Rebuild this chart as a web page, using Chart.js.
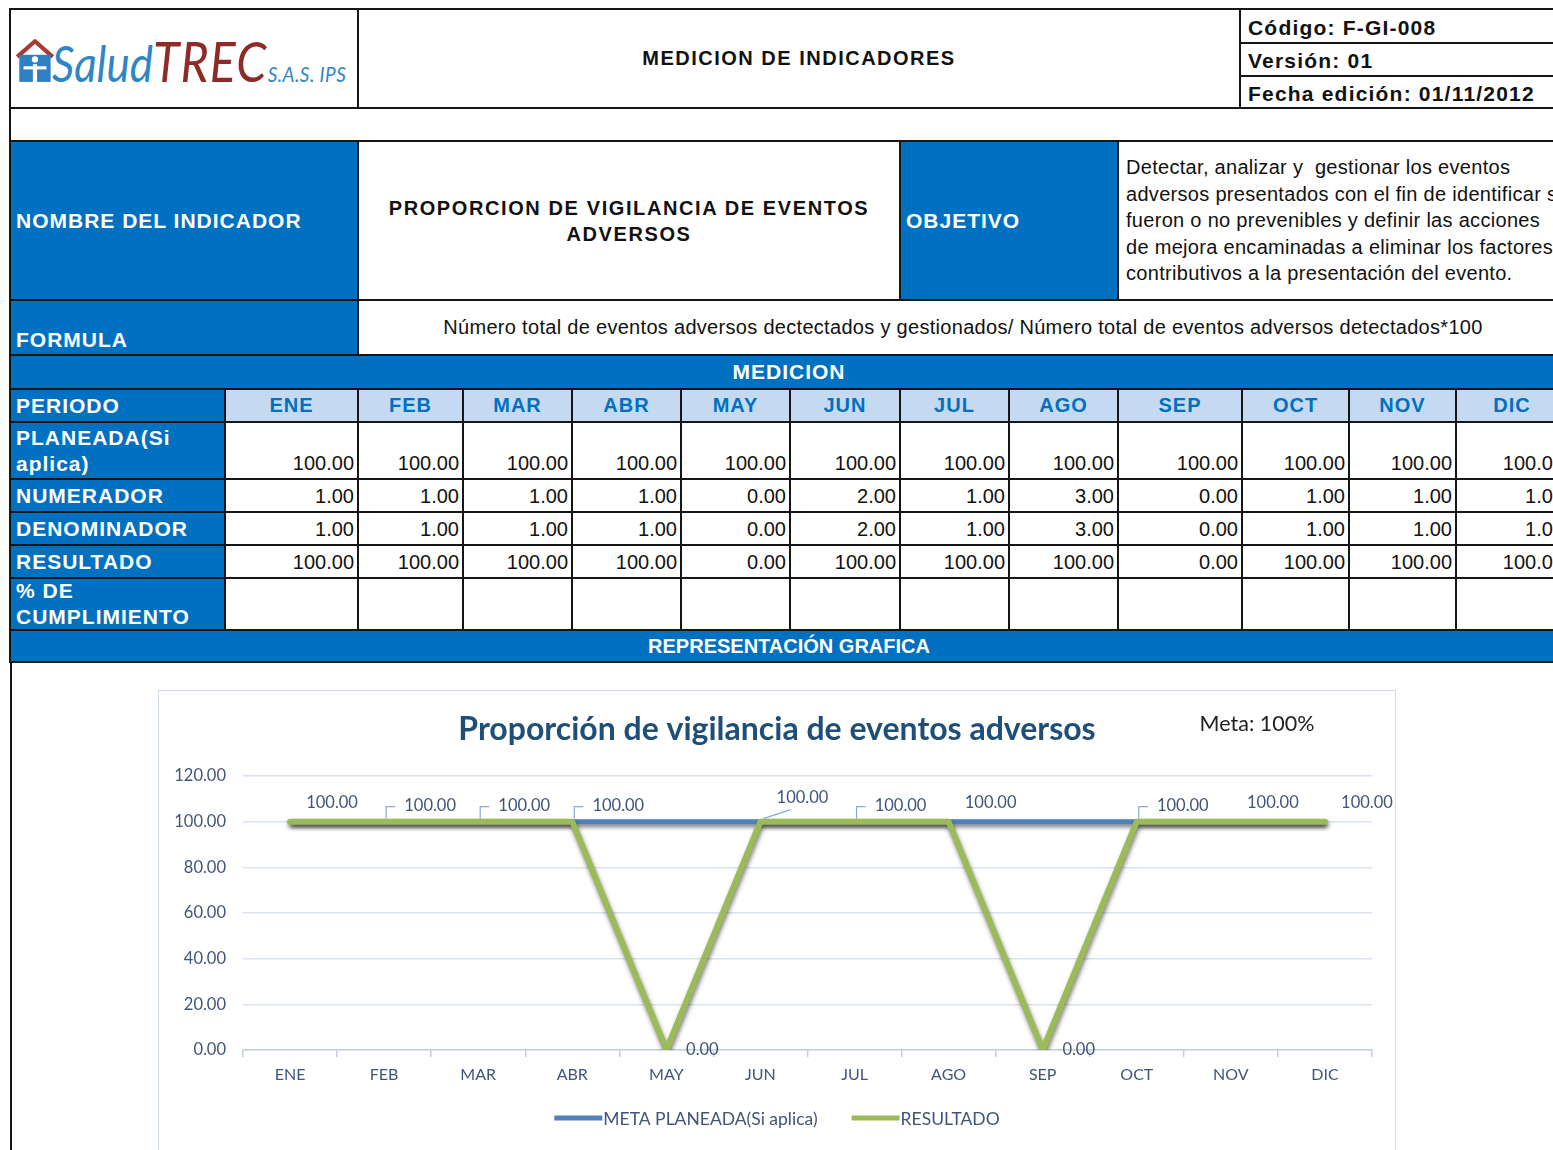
<!DOCTYPE html>
<html lang="es">
<head>
<meta charset="utf-8">
<title>Medición de indicadores - Proporción de vigilancia de eventos adversos</title>
<script src="https://cdn.jsdelivr.net/npm/chart.js@4.4.1/dist/chart.umd.min.js"></script>
<style>
  html, body { margin: 0; padding: 0; background: #fff; }
  body { width: 1553px; height: 1150px; overflow: hidden; position: relative; font-family: "Liberation Sans", Arial, sans-serif; color: #111; }
  .c { position: absolute; box-sizing: border-box; border: 2px solid #161616; display: flex; overflow: hidden; white-space: nowrap; }
  .blue { background: #0070C0; color: #fff; font-weight: bold; font-size: 21px; letter-spacing: 1px; }
  .lbl { align-items: center; padding-left: 5px; line-height: 26px; }
  .mon { background: #C5D9F1; color: #0070C0; font-weight: bold; font-size: 20px; letter-spacing: 1px; justify-content: center; align-items: center; }
  .num { font-size: 20px; line-height: 23px; justify-content: flex-end; align-items: flex-end; padding: 0 3px 3px 0; }
  .hdr { font-weight: bold; font-size: 20px; letter-spacing: 1.5px; align-items: center; }
  .txt { font-size: 20px; letter-spacing: 0.3px; }
  .logo { position: absolute; left: 52px; top: 33px; height: 52px; font-family: Lato, "Open Sans", sans-serif; font-style: italic; font-size: 51px; line-height: 1; transform: scaleX(0.86); transform-origin: left top; white-space: nowrap; }
  #leftRule { position: absolute; left: 10px; top: 662px; width: 2px; height: 500px; background: #161616; }
  #chartBox { position: absolute; left: 158px; top: 690px; width: 1238px; height: 480px; box-sizing: border-box; border: 1.5px solid #D3DBE6; }
  #chartWrap { position: absolute; left: 0; top: 0; width: 1236px; height: 459px; }
</style>
</head>
<body>
<div id="sheet"></div>
<div id="leftRule"></div>
<div id="chartBox"><div id="chartWrap"><canvas id="chart" width="1236" height="459"></canvas></div></div>

<script>
// datos de la hoja
const MONTHS = ['ENE', 'FEB', 'MAR', 'ABR', 'MAY', 'JUN', 'JUL', 'AGO', 'SEP', 'OCT', 'NOV', 'DIC'];
const PLANEADA = [100, 100, 100, 100, 100, 100, 100, 100, 100, 100, 100, 100];
const NUMERADOR = [1, 1, 1, 1, 0, 2, 1, 3, 0, 1, 1, 1];
const DENOMINADOR = [1, 1, 1, 1, 0, 2, 1, 3, 0, 1, 1, 1];
const RESULTADO = [100, 100, 100, 100, 0, 100, 100, 100, 0, 100, 100, 100];
const Y_TICKS = [0, 20, 40, 60, 80, 100, 120];

const SERIES_META = 'META PLANEADA(Si aplica)';
const SERIES_RESULT = 'RESULTADO';
const CHART_TITLE = 'Proporción de vigilancia de eventos adversos';
const META_NOTE = 'Meta: 100%';

const OBJETIVO = [
  'Detectar, analizar y&nbsp; gestionar los eventos',
  'adversos presentados con el fin de identificar si',
  'fueron o no prevenibles y definir las acciones',
  'de mejora encaminadas a eliminar los factores',
  'contributivos a la presentación del evento.',
];
const FORMULA = 'Número total de eventos adversos dectectados y gestionados/ Número total de eventos adversos detectados*100';

// estilos del gráfico
const BLUE = '#4F81BD';
const GREEN = '#9BBB59';
const TICK_COLOR = '#41557A';
const GRID_COLOR = '#D9E2EF';
const AXIS_COLOR = '#C4CFDE';
const CHART_FONT = 'Lato, "Open Sans", sans-serif';
const LEADERS = { FEB: 'bracket', MAR: 'bracket', ABR: 'bracket', JUL: 'bracket', OCT: 'bracket', JUN: 'diagonal' };

// ---------- hoja ----------
const sheet = document.getElementById('sheet');
const COL_X = [225, 358, 463, 572, 681, 790, 900, 1009, 1118, 1242, 1349, 1456, 1568];
const RIGHT = 1568;

function cell(x1, y1, x2, y2, cls, html, css) {
  const d = document.createElement('div');
  d.className = 'c ' + (cls || '');
  d.style.left = (x1 - 1) + 'px';
  d.style.top = (y1 - 1) + 'px';
  d.style.width = (x2 - x1 + 2) + 'px';
  d.style.height = (y2 - y1 + 2) + 'px';
  if (css) Object.assign(d.style, css);
  d.innerHTML = html || '';
  sheet.appendChild(d);
  return d;
}

// encabezado
cell(10, 9, 358, 108, '', '');
cell(358, 9, 1240, 108, 'hdr', 'MEDICION DE INDICADORES', { justifyContent: 'center' });
const codeCss = { paddingLeft: '7px', paddingTop: '3px', fontSize: '21px', letterSpacing: '1.2px' };
cell(1240, 9, RIGHT, 43, 'hdr', 'Código: F-GI-008', codeCss);
cell(1240, 43, RIGHT, 76, 'hdr', 'Versión: 01', codeCss);
cell(1240, 76, RIGHT, 108, 'hdr', 'Fecha edición: 01/11/2012', codeCss);

// logo
sheet.insertAdjacentHTML('beforeend', `
<svg style="position:absolute;left:15px;top:36px" width="42" height="48" viewBox="0 0 40 46">
  <path d="M2 20 L19 5 L36 20" fill="none" stroke="#A63A33" stroke-width="4" stroke-linejoin="round"/>
  <rect x="4" y="18" width="30" height="26" fill="#2F80C3"/>
  <circle cx="19" cy="22.5" r="3" fill="#fff"/>
  <rect x="17" y="27" width="4" height="17" fill="#fff"/>
  <rect x="8" y="29" width="22" height="3" fill="#fff"/>
</svg>
<div class="logo"><span style="color:#2E86C6">Salud</span><span style="color:#8E2B27;font-size:56px;letter-spacing:1.5px">TREC</span><span style="color:#2E86C6;font-size:22px;letter-spacing:0.5px">S.A.S. IPS</span></div>`);

cell(10, 108, RIGHT, 141, '', '');

// nombre / objetivo
cell(10, 141, 358, 300, 'blue lbl', 'NOMBRE DEL INDICADOR');
cell(358, 141, 900, 300, 'hdr', 'PROPORCION DE VIGILANCIA DE EVENTOS<br>ADVERSOS',
  { justifyContent: 'center', textAlign: 'center', lineHeight: '26px', whiteSpace: 'normal', letterSpacing: '1.6px' });
cell(900, 141, 1118, 300, 'blue lbl', 'OBJETIVO');
cell(1118, 141, RIGHT, 300, 'txt', OBJETIVO.join('<br>'),
  { alignItems: 'center', paddingLeft: '7px', lineHeight: '26.5px' });

// formula
cell(10, 300, 358, 355, 'blue lbl', 'FORMULA', { alignItems: 'flex-end', paddingBottom: '1px' });
cell(358, 300, RIGHT, 355, 'txt', FORMULA, { justifyContent: 'center', alignItems: 'center' });

// medicion
cell(10, 355, RIGHT, 389, 'blue', 'MEDICION', { justifyContent: 'center', alignItems: 'center' });

const ROWS = [
  { label: 'PERIODO', y1: 389, y2: 422 },
  { label: 'PLANEADA(Si<br>aplica)', y1: 422, y2: 479, values: PLANEADA },
  { label: 'NUMERADOR', y1: 479, y2: 512, values: NUMERADOR },
  { label: 'DENOMINADOR', y1: 512, y2: 545, values: DENOMINADOR },
  { label: 'RESULTADO', y1: 545, y2: 578, values: RESULTADO },
  { label: '% DE<br>CUMPLIMIENTO', y1: 578, y2: 630, values: null },
];

ROWS.forEach((r, ri) => {
  cell(10, r.y1, COL_X[0], r.y2, 'blue lbl', r.label);
  MONTHS.forEach((m, i) => {
    const x1 = COL_X[i], x2 = COL_X[i + 1];
    if (ri === 0) cell(x1, r.y1, x2, r.y2, 'mon', m);
    else cell(x1, r.y1, x2, r.y2, 'num', r.values ? r.values[i].toFixed(2) : '');
  });
});

cell(10, 630, RIGHT, 662, 'blue', 'REPRESENTACIÓN GRAFICA',
  { justifyContent: 'center', alignItems: 'center', fontSize: '20px', letterSpacing: '0px' });

// ---------- grafico ----------
const decor = {
  id: 'decor',
  beforeDatasetDraw(chart) {
    const ctx = chart.ctx;
    ctx.save();
    ctx.shadowColor = 'rgba(0,0,0,0.5)';
    ctx.shadowBlur = 4;
    ctx.shadowOffsetX = 1;
    ctx.shadowOffsetY = 3;
  },
  afterDatasetDraw(chart) {
    chart.ctx.restore();
  },
  afterDatasetsDraw(chart) {
    const ctx = chart.ctx;
    const idx = chart.data.datasets.findIndex((d) => d.label === SERIES_RESULT);
    const pts = chart.getDatasetMeta(idx).data;
    ctx.save();
    ctx.font = '16.5px ' + CHART_FONT;
    ctx.fillStyle = TICK_COLOR;
    ctx.textAlign = 'center';
    ctx.textBaseline = 'middle';
    ctx.strokeStyle = '#8FA8CA';
    ctx.lineWidth = 1.2;
    pts.forEach((pt, i) => {
      const v = RESULTADO[i];
      const txt = v.toFixed(2);
      let lx = pt.x + 42, ly = pt.y - 19;
      if (v === 0) { lx = pt.x + 36; ly = pt.y; }
      const kind = LEADERS[MONTHS[i]];
      if (kind === 'bracket') {
        ctx.beginPath();
        ctx.moveTo(pt.x + 2, pt.y - 3);
        ctx.lineTo(pt.x + 2, pt.y - 15);
        ctx.lineTo(pt.x + 11, pt.y - 15);
        ctx.stroke();
        lx = pt.x + 46; ly = pt.y - 16;
      } else if (kind === 'diagonal') {
        ctx.beginPath();
        ctx.moveTo(pt.x + 3, pt.y - 3);
        ctx.lineTo(pt.x + 30, pt.y - 12);
        ctx.stroke();
        ly = pt.y - 24;
      }
      ctx.fillText(txt, lx, ly);
    });
    ctx.restore();
  },
  afterDraw(chart) {
    const ctx = chart.ctx;
    const w = chart.width;
    ctx.save();
    ctx.textBaseline = 'middle';
    ctx.textAlign = 'center';
    ctx.fillStyle = '#1F4E79';
    ctx.font = 'bold 32px ' + CHART_FONT;
    ctx.fillText(CHART_TITLE, w / 2, 39);
    ctx.fillStyle = '#222';
    ctx.font = '21.5px ' + CHART_FONT;
    ctx.fillText(META_NOTE, 1098, 33);

    // leyenda
    ctx.font = '17.5px ' + CHART_FONT;
    ctx.textAlign = 'left';
    const items = chart.data.datasets.map((d) => ({ label: d.label, color: d.borderColor }));
    const lineW = 48, gap = 1, space = 34;
    const widths = items.map((it) => lineW + gap + ctx.measureText(it.label).width);
    let x = w / 2 - (widths.reduce((a, b) => a + b, 0) + space * (items.length - 1)) / 2;
    const y = 427;
    items.forEach((it, i) => {
      ctx.strokeStyle = it.color;
      ctx.lineWidth = 5;
      ctx.beginPath();
      ctx.moveTo(x, y);
      ctx.lineTo(x + lineW, y);
      ctx.stroke();
      ctx.fillStyle = TICK_COLOR;
      ctx.fillText(it.label, x + lineW + gap, y + 1);
      x += widths[i] + space;
    });
    ctx.restore();
  },
};

new Chart(document.getElementById('chart'), {
  type: 'line',
  data: {
    labels: MONTHS,
    datasets: [
      {
        label: SERIES_META,
        data: PLANEADA,
        borderColor: BLUE,
        borderWidth: 5,
        pointRadius: 0,
        tension: 0,
        order: 1,
      },
      {
        label: SERIES_RESULT,
        data: RESULTADO,
        borderColor: GREEN,
        borderWidth: 6,
        borderCapStyle: 'round',
        borderJoinStyle: 'round',
        pointRadius: 0,
        tension: 0,
        order: 0,
      },
    ],
  },
  options: {
    responsive: false,
    animation: false,
    layout: { padding: { top: 85, left: 8, right: 23, bottom: 60 } },
    plugins: {
      legend: { display: false },
      title: { display: false },
      tooltip: { enabled: false },
    },
    scales: {
      x: {
        offset: true,
        grid: { display: true, drawOnChartArea: false, drawTicks: true, tickLength: 7, color: AXIS_COLOR, lineWidth: 1.5, offset: true },
        border: { display: true, color: AXIS_COLOR, width: 1.5 },
        ticks: { color: TICK_COLOR, font: { family: CHART_FONT, size: 16 }, padding: 8, autoSkip: false, maxRotation: 0 },
        afterFit: (s) => { s.height = 40; },
      },
      y: {
        min: Y_TICKS[0],
        max: Y_TICKS[Y_TICKS.length - 1],
        afterBuildTicks: (s) => { s.ticks = Y_TICKS.map((v) => ({ value: v })); },
        ticks: { color: TICK_COLOR, font: { family: CHART_FONT, size: 16.5 }, padding: 17, callback: (v) => Number(v).toFixed(2) },
        grid: { color: GRID_COLOR, lineWidth: 1.5, drawTicks: false },
        border: { display: false },
        afterFit: (s) => { s.width = 76; },
      },
    },
  },
  plugins: [decor],
});
</script>
</body>
</html>
